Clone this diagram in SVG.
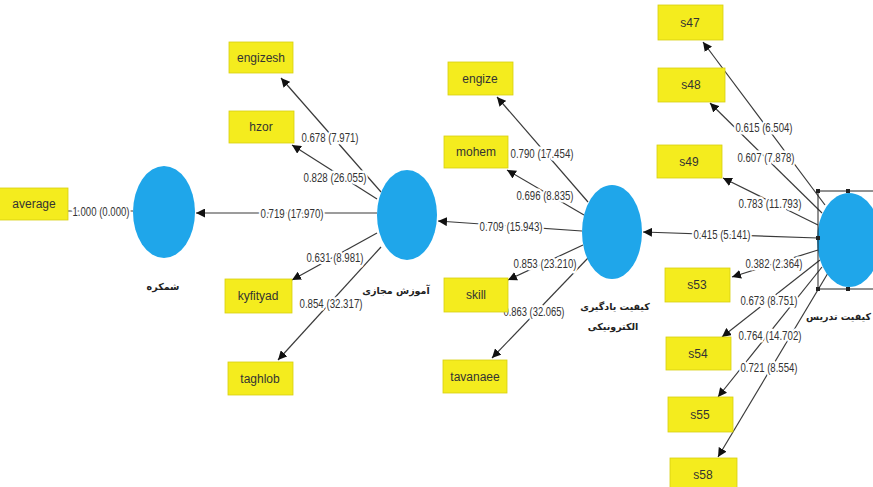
<svg xmlns="http://www.w3.org/2000/svg" width="873" height="487" viewBox="0 0 873 487">
<style>
.box{fill:#f4ec1e;stroke:#d8cf10;stroke-width:0.8}
.bt{font-family:"Liberation Sans",Arial,sans-serif;font-size:12px;fill:#333;text-anchor:middle;dominant-baseline:central}
.lv{fill:#1fa6ea}
.lt{font-family:"DejaVu Sans","Noto Sans",sans-serif;font-size:9.5px;font-weight:bold;fill:#222;text-anchor:middle;dominant-baseline:central}
.ln{stroke:#3a3a3a;stroke-width:1.2;fill:none}
.lbl{font-family:"Liberation Sans",Arial,sans-serif;font-size:13px;fill:#333;text-anchor:middle;dominant-baseline:central;paint-order:stroke;stroke:#fff;stroke-width:5px;stroke-linejoin:round}
.sel{stroke:#222;stroke-width:1;fill:none}
.h{fill:#222}
</style>
<defs>
<marker id="ah" viewBox="0 0 10 10" refX="10" refY="5" markerWidth="9" markerHeight="9" markerUnits="userSpaceOnUse" orient="auto"><path d="M0,0 L10,5 L0,10 z" fill="#111"/></marker>
</defs>
<rect width="873" height="487" fill="#fff"/>
<g id="connectors">
<line class="ln" x1="68" y1="211" x2="133" y2="211"/>
<line class="ln" x1="377" y1="213" x2="196" y2="213" marker-end="url(#ah)"/>
<line class="ln" x1="582" y1="231" x2="438" y2="221" marker-end="url(#ah)"/>
<line class="ln" x1="818" y1="238" x2="643" y2="232" marker-end="url(#ah)"/>
<line class="ln" x1="381" y1="192" x2="281" y2="78" marker-end="url(#ah)"/>
<line class="ln" x1="377" y1="199" x2="292" y2="145" marker-end="url(#ah)"/>
<line class="ln" x1="377" y1="233" x2="292" y2="280" marker-end="url(#ah)"/>
<line class="ln" x1="381" y1="247" x2="278" y2="360" marker-end="url(#ah)"/>
<line class="ln" x1="588" y1="202" x2="497" y2="97" marker-end="url(#ah)"/>
<line class="ln" x1="584" y1="215" x2="507" y2="170" marker-end="url(#ah)"/>
<line class="ln" x1="583" y1="245" x2="508" y2="280" marker-end="url(#ah)"/>
<line class="ln" x1="588" y1="258" x2="492" y2="358" marker-end="url(#ah)"/>
<line class="ln" x1="825" y1="205" x2="703" y2="42" marker-end="url(#ah)"/>
<line class="ln" x1="822" y1="213" x2="710" y2="103" marker-end="url(#ah)"/>
<line class="ln" x1="818" y1="225" x2="723" y2="178" marker-end="url(#ah)"/>
<line class="ln" x1="818" y1="250" x2="732" y2="277" marker-end="url(#ah)"/>
<line class="ln" x1="820" y1="260" x2="722" y2="337" marker-end="url(#ah)"/>
<line class="ln" x1="822" y1="267" x2="718" y2="397" marker-end="url(#ah)"/>
<line class="ln" x1="828" y1="273" x2="718" y2="457" marker-end="url(#ah)"/>
<text class="lbl" x="101" y="211" textLength="57" lengthAdjust="spacingAndGlyphs">1.000 (0.000)</text>
<text class="lbl" x="292" y="213" textLength="63" lengthAdjust="spacingAndGlyphs">0.719 (17.970)</text>
<text class="lbl" x="511" y="226" textLength="63" lengthAdjust="spacingAndGlyphs">0.709 (15.943)</text>
<text class="lbl" x="722" y="234" textLength="57" lengthAdjust="spacingAndGlyphs">0.415 (5.141)</text>
<text class="lbl" x="330" y="137" textLength="57" lengthAdjust="spacingAndGlyphs">0.678 (7.971)</text>
<text class="lbl" x="335" y="177" textLength="63" lengthAdjust="spacingAndGlyphs">0.828 (26.055)</text>
<text class="lbl" x="335" y="257" textLength="57" lengthAdjust="spacingAndGlyphs">0.631 (8.981)</text>
<text class="lbl" x="331" y="303" textLength="63" lengthAdjust="spacingAndGlyphs">0.854 (32.317)</text>
<text class="lbl" x="542" y="153" textLength="63" lengthAdjust="spacingAndGlyphs">0.790 (17.454)</text>
<text class="lbl" x="545" y="195" textLength="57" lengthAdjust="spacingAndGlyphs">0.696 (8.835)</text>
<text class="lbl" x="545" y="263" textLength="63" lengthAdjust="spacingAndGlyphs">0.853 (23.210)</text>
<text class="lbl" x="534" y="311" textLength="61" lengthAdjust="spacingAndGlyphs">0.863 (32.065)</text>
<text class="lbl" x="764" y="127" textLength="57" lengthAdjust="spacingAndGlyphs">0.615 (6.504)</text>
<text class="lbl" x="766" y="157" textLength="57" lengthAdjust="spacingAndGlyphs">0.607 (7.878)</text>
<text class="lbl" x="770" y="203" textLength="63" lengthAdjust="spacingAndGlyphs">0.783 (11.793)</text>
<text class="lbl" x="774" y="263" textLength="57" lengthAdjust="spacingAndGlyphs">0.382 (2.364)</text>
<text class="lbl" x="769" y="300" textLength="57" lengthAdjust="spacingAndGlyphs">0.673 (8.751)</text>
<text class="lbl" x="770" y="335" textLength="63" lengthAdjust="spacingAndGlyphs">0.764 (14.702)</text>
<text class="lbl" x="769" y="367" textLength="57" lengthAdjust="spacingAndGlyphs">0.721 (8.554)</text>
</g>
<g id="shomkare"><ellipse class="lv" cx="164" cy="212" rx="31" ry="46"/><text class="lt" x="163" y="286">شمکره</text></g>
<g id="amoozesh"><ellipse class="lv" cx="407" cy="215" rx="30" ry="45"/><text class="lt" x="396" y="290">آموزش مجازی</text></g>
<g id="keyfiat-yadgiri"><ellipse class="lv" cx="612" cy="232" rx="30" ry="47"/><text class="lt" x="615" y="306">کیفیت یادگیری</text><text class="lt" x="613" y="326">الکترونیکی</text></g>
<g id="keyfiat-tadris"><ellipse class="lv" cx="849" cy="240" rx="32" ry="47"/>
<path class="sel" d="M873,191 H818 V289 H873"/>
<rect class="h" x="816" y="189" width="4" height="4"/><rect class="h" x="846" y="189" width="4" height="4"/><rect class="h" x="816" y="236" width="4" height="4"/><rect class="h" x="816" y="287" width="4" height="4"/><rect class="h" x="846" y="287" width="4" height="4"/>
<text class="lt" x="871" y="316" style="text-anchor:end">کیفیت تدریس</text></g>
<g id="average"><rect class="box" x="-6" y="188" width="74" height="32"/><text class="bt" x="34" y="204">average</text></g>
<g id="engizesh"><rect class="box" x="229" y="42" width="64" height="31"/><text class="bt" x="261" y="58">engizesh</text></g>
<g id="hzor"><rect class="box" x="229" y="111" width="65" height="32"/><text class="bt" x="261" y="127">hzor</text></g>
<g id="kyfityad"><rect class="box" x="225" y="279" width="67" height="34"/><text class="bt" x="258" y="296">kyfityad</text></g>
<g id="taghlob"><rect class="box" x="228" y="362" width="65" height="33"/><text class="bt" x="260" y="379">taghlob</text></g>
<g id="engize"><rect class="box" x="448" y="62" width="65" height="33"/><text class="bt" x="480" y="79">engize</text></g>
<g id="mohem"><rect class="box" x="444" y="136" width="64" height="32"/><text class="bt" x="476" y="152">mohem</text></g>
<g id="skill"><rect class="box" x="444" y="278" width="64" height="34"/><text class="bt" x="476" y="295">skill</text></g>
<g id="tavanaee"><rect class="box" x="443" y="360" width="64" height="33"/><text class="bt" x="475" y="377">tavanaee</text></g>
<g id="s47"><rect class="box" x="658" y="5" width="65" height="35"/><text class="bt" x="690" y="23">s47</text></g>
<g id="s48"><rect class="box" x="658" y="68" width="67" height="34"/><text class="bt" x="691" y="85">s48</text></g>
<g id="s49"><rect class="box" x="657" y="145" width="65" height="33"/><text class="bt" x="689" y="162">s49</text></g>
<g id="s53"><rect class="box" x="665" y="268" width="65" height="34"/><text class="bt" x="697" y="285">s53</text></g>
<g id="s54"><rect class="box" x="666" y="337" width="65" height="33"/><text class="bt" x="698" y="354">s54</text></g>
<g id="s55"><rect class="box" x="668" y="397" width="65" height="35"/><text class="bt" x="700" y="415">s55</text></g>
<g id="s58"><rect class="box" x="670" y="458" width="67" height="35"/><text class="bt" x="703" y="475">s58</text></g>
</svg>
